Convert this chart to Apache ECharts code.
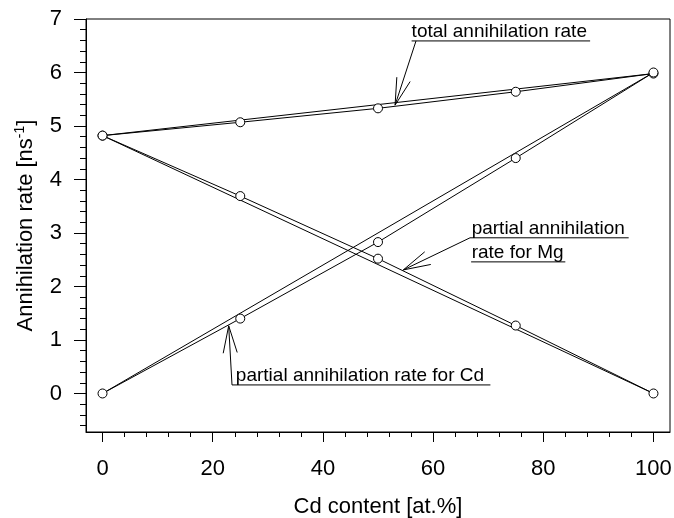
<!DOCTYPE html>
<html>
<head>
<meta charset="utf-8">
<script src="https://cdn.jsdelivr.net/npm/echarts@6/dist/echarts.min.js"></script>
<style>
html,body{margin:0;padding:0;background:#fff;}
#chart{width:674px;height:518px;}
</style>
</head>
<body>
<div id="chart"></div>
<script>
// Cd content [at.%]
var cdContent=[0,25,50,75,100];
// annihilation rates [ns-1]
var totalRate=[4.82,5.07,5.33,5.64,5.98];
var mgRate=[4.82,3.69,2.52,1.27,0];
var cdRate=[0,1.40,2.83,4.40,6.0];

var xTicks=[0,20,40,60,80,100];
var yTicks=[0,1,2,3,4,5,6,7];
var xMinor=[0,4,8,12,16,20,24,28,32,36,40,44,48,52,56,60,64,68,72,76,80,84,88,92,96,100];
var yMinor=[-0.6,-0.4,-0.2,0,0.2,0.4,0.6,0.8,1,1.2,1.4,1.6,1.8,2,2.2,2.4,2.6,2.8,3,3.2,3.4,3.6,3.8,4,4.2,4.4,4.6,4.8,5,5.2,5.4,5.6,5.8,6,6.2,6.4,6.6,6.8,7];

// annotation anchors, in data units
var totalNote={lines:['total annihilation rate'],textX:56.1,lineY:[6.59],lineX:[[56.1,88.5]],elbow:[56.9,6.59],tip:[53.1,5.39]};
var mgNote={lines:['partial annihilation','rate for Mg'],textX:67.0,lineY:[2.91,2.46],lineX:[[66.7,95.5],[66.9,84.0]],elbow:[66.7,2.91],tip:[54.6,2.31]};
var cdNote={lines:['partial annihilation rate for Cd'],textX:24.2,lineY:[0.16],lineX:[[23.5,70.4]],elbow:[23.5,0.16],tip:[22.9,1.265]};

var FONT='"Liberation Sans", Arial, sans-serif';

function pairs(ys){
    return cdContent.map(function(x,i){return [x,ys[i]];});
}
function ends(ys){
    var n=cdContent.length-1;
    return [[cdContent[0],ys[0]],[cdContent[n],ys[n]]];
}
function straight(ys){
    return {
        type:'line',
        data:ends(ys),
        showSymbol:false,
        symbol:'none',
        silent:true,
        lineStyle:{color:'#000',width:1},
        z:2
    };
}
function measured(ys){
    return {
        type:'line',
        data:pairs(ys),
        symbol:'circle',
        symbolSize:9,
        silent:true,
        itemStyle:{color:'#fff',borderColor:'#000',borderWidth:1},
        lineStyle:{color:'#000',width:1},
        z:3
    };
}

var myChart=echarts.init(document.getElementById('chart'));
var option={
    animation:false,
    backgroundColor:'#fff',
    textStyle:{fontFamily:FONT,color:'#000'},
    grid:{left:86,right:4,top:19,bottom:86,outerBoundsMode:'none',containLabel:false,
        show:true,borderColor:'#000',borderWidth:1,backgroundColor:'transparent'},
    xAxis:[{
        type:'value',min:-3,max:103,position:'bottom',
        name:'Cd content [at.%]',nameLocation:'middle',nameGap:64,
        nameTextStyle:{fontSize:22,color:'#000',fontFamily:FONT},
        axisLine:{show:true,onZero:false,lineStyle:{color:'#000',width:1}},
        axisTick:{show:true,customValues:xTicks,length:10,lineStyle:{color:'#000',width:1}},
        axisLabel:{customValues:xTicks,fontSize:22,color:'#000',margin:26,fontFamily:FONT},
        splitLine:{show:false}
    },{
        type:'value',min:-3,max:103,position:'bottom',
        axisLine:{show:false,onZero:false},
        axisTick:{show:true,customValues:xMinor,length:5,lineStyle:{color:'#000',width:1}},
        axisLabel:{show:false},
        splitLine:{show:false}
    }],
    yAxis:[{
        type:'value',min:-0.72,max:7,position:'left',
        name:'Annihilation rate [ns{sup|-1}]',nameLocation:'middle',nameGap:44,nameRotate:90,
        nameTextStyle:{fontSize:22,color:'#000',fontFamily:FONT,lineHeight:26,
            rich:{sup:{fontSize:14,verticalAlign:'top',lineHeight:26,color:'#000',fontFamily:FONT}}},
        axisLine:{show:true,onZero:false,lineStyle:{color:'#000',width:1}},
        axisTick:{show:true,customValues:yTicks,length:12,lineStyle:{color:'#000',width:1}},
        axisLabel:{customValues:yTicks,fontSize:22,color:'#000',margin:24,fontFamily:FONT},
        splitLine:{show:false}
    },{
        type:'value',min:-0.72,max:7,position:'left',
        axisLine:{show:false,onZero:false},
        axisTick:{show:true,customValues:yMinor,length:6,lineStyle:{color:'#000',width:1}},
        axisLabel:{show:false},
        splitLine:{show:false}
    }],
    series:[
        straight(totalRate),straight(mgRate),straight(cdRate),
        measured(totalRate),measured(mgRate),measured(cdRate)
    ]
};
myChart.setOption(option);

// annotations: underlined labels with open arrows
function px(p){
    return myChart.convertToPixel({xAxisIndex:0,yAxisIndex:0},p);
}
function seg(a,b){
    return {type:'line',silent:true,z:10,shape:{x1:a[0],y1:a[1],x2:b[0],y2:b[1]},style:{stroke:'#000',lineWidth:1}};
}
function noteGraphics(note){
    var out=[];
    for(var i=0;i<note.lines.length;i++){
        var a=px([note.lineX[i][0],note.lineY[i]]);
        var b=px([note.lineX[i][1],note.lineY[i]]);
        out.push(seg(a,b));
        var t=px([note.textX,note.lineY[i]]);
        out.push({type:'text',silent:true,z:10,x:t[0],y:t[1]-9,
            style:{text:note.lines[i],font:'19px '+FONT,fill:'#000',align:'left',verticalAlign:'middle'}});
    }
    var e=px(note.elbow),tp=px(note.tip);
    out.push(seg(e,tp));
    var ang=Math.atan2(e[1]-tp[1],e[0]-tp[0]);
    var half=14.5*Math.PI/180,len=28;
    out.push(seg(tp,[tp[0]+len*Math.cos(ang+half),tp[1]+len*Math.sin(ang+half)]));
    out.push(seg(tp,[tp[0]+len*Math.cos(ang-half),tp[1]+len*Math.sin(ang-half)]));
    return out;
}
myChart.setOption({
    graphic:[].concat(noteGraphics(totalNote),noteGraphics(mgNote),noteGraphics(cdNote))
});
</script>
</body>
</html>
